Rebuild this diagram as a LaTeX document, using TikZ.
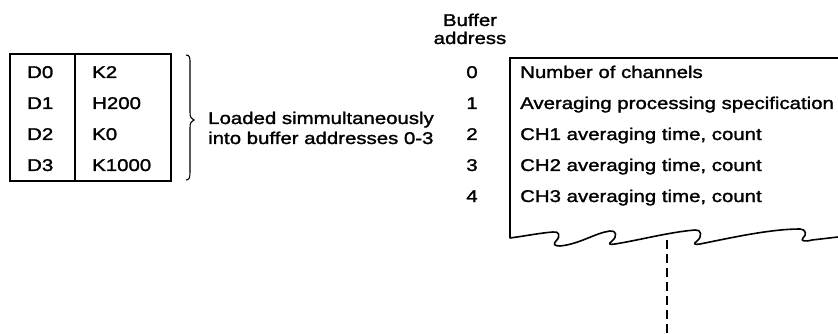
\documentclass[tikz,border=0pt]{standalone}
\usepackage{fontspec}
\setmainfont{Liberation Sans}[FakeStretch=1.2, FakeBold=1.6]
\begin{document}
\begin{tikzpicture}[x=1pt,y=-1pt,
  txt/.style={inner sep=0pt, text height=12pt, text depth=0pt, font=\fontsize{17}{18}\selectfont},
  frame/.style={line width=1.8pt},
  wavy/.style={line width=1.6pt, line join=round, line cap=round},
  bracestyle/.style={line width=1.1pt},
  dashline/.style={line width=2pt, dash pattern=on 9pt off 5pt}
]
\useasboundingbox (0,0) rectangle (838,334);
% left table
\node[draw, frame, minimum width=161pt, minimum height=127pt, inner sep=0pt] (tbl) at (90.5,117.5) {};
\draw[frame] (75,54) -- (75,181);
\foreach \i/\d/\k/\y in {0/D0/K2/72, 1/D1/H200/103, 2/D2/K0/134, 3/D3/K1000/165}{
  \node[txt, anchor=west] (d\i) at (27,\y) {\d};
  \node[txt, anchor=west] (k\i) at (92,\y) {\k};
}
% brace
\draw[bracestyle] (186,55) .. controls (190,55) and (190,58) .. (190,63) -- (190,112)
  .. controls (190,117) and (191,119) .. (194,120)
  .. controls (191,121) and (190,123) .. (190,128) -- (190,172)
  .. controls (190,178) and (189,180) .. (186,180);
\node[txt, anchor=west] (load1) at (208,118) {Loaded simmultaneously};
\node[txt, anchor=west] (load2) at (208,138) {into buffer addresses 0-3};
% buffer header
\node[txt] (hdr1) at (470,20) {Buffer};
\node[txt] (hdr2) at (470,38) {address};
\foreach \i/\t/\y in {0/Number of channels/72, 1/Averaging processing specification/103, 2/CH1 averaging time{,} count/134, 3/CH2 averaging time{,} count/165, 4/CH3 averaging time{,} count/196}{
  \node[txt] (n\i) at (472,\y) {\i};
  \node[txt, anchor=west] (e\i) at (520,\y) {\t};
}
% buffer box with torn bottom
\draw[frame] (838,58) -- (510,58) -- (510,238);
\draw[wavy] (510,238) .. controls (525,236) and (540,233) .. (553,232)
  .. controls (559,231) and (561,236) .. (556,241)
  .. controls (553,244) and (554,246) .. (560,246)
  .. controls (580,244) and (595,233) .. (610,231)
  .. controls (616,230) and (618,236) .. (612,241)
  .. controls (608,244) and (609,245) .. (615,244)
  .. controls (640,240) and (670,232) .. (695,230)
  .. controls (701,229) and (703,236) .. (697,241)
  .. controls (693,244) and (694,245) .. (700,244)
  .. controls (730,238) and (770,229) .. (800,229)
  .. controls (806,229) and (807,235) .. (803,238)
  .. controls (800,241) and (805,242) .. (812,240)
  -- (838,237);
% dashed line
\coordinate (dtop) at (667,240);
\coordinate (dbot) at (667,334);
\draw[dashline] (dtop) -- (dbot);
\end{tikzpicture}
\end{document}
